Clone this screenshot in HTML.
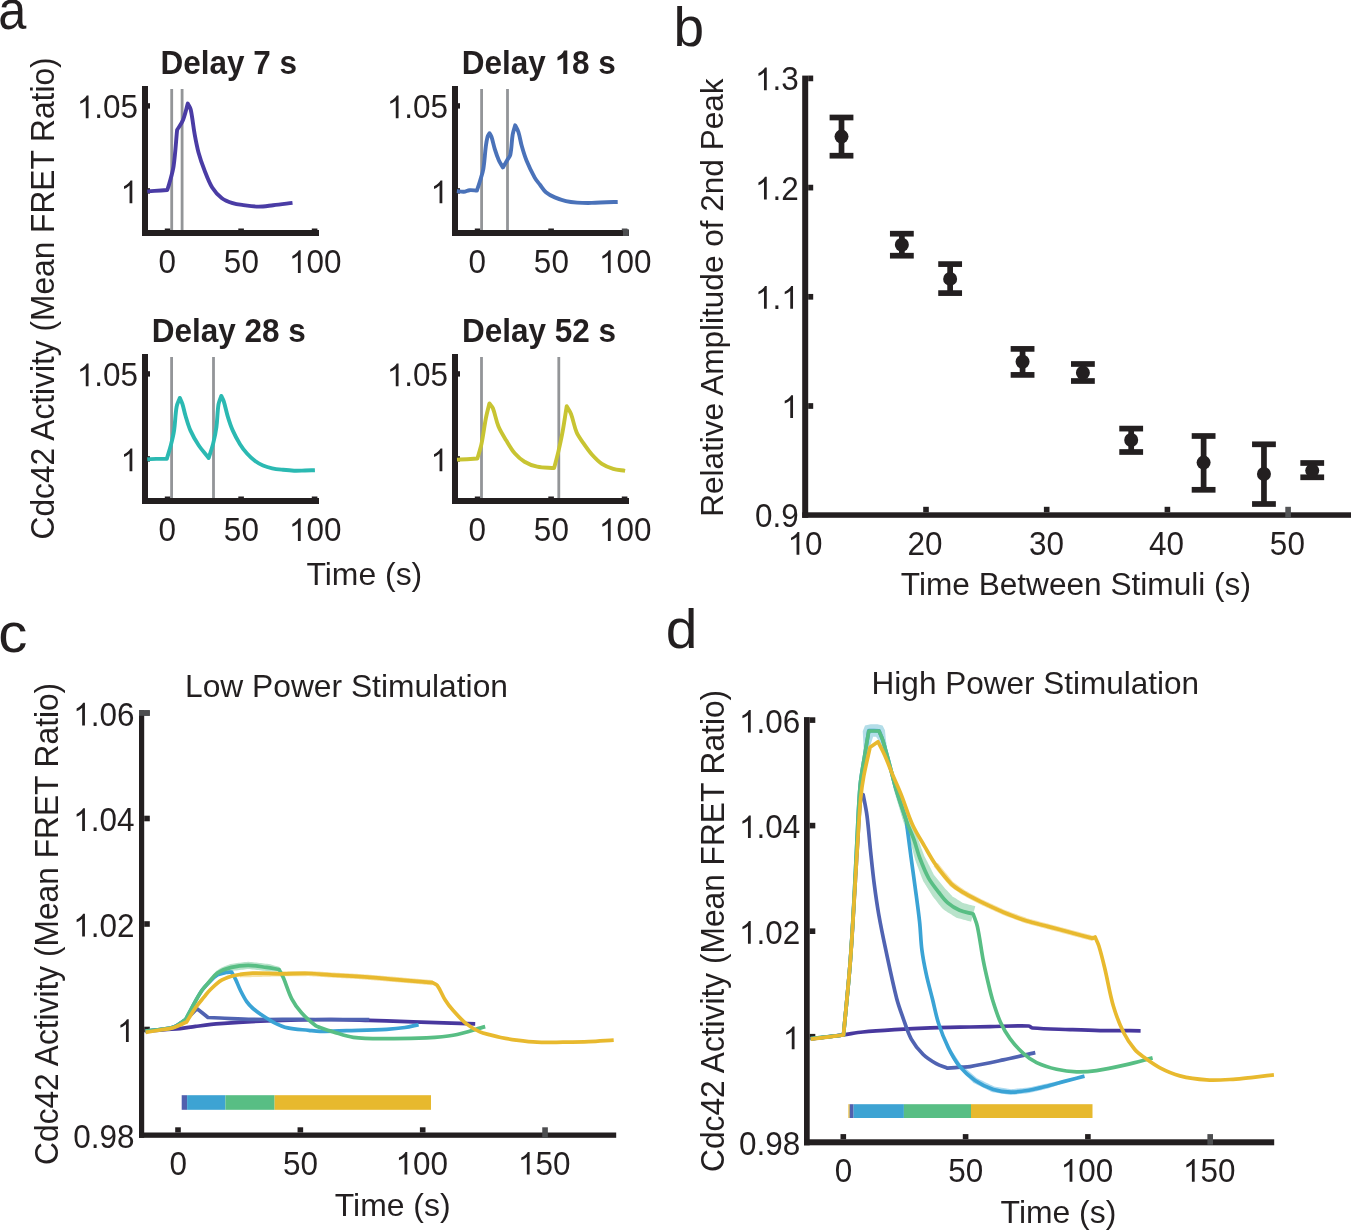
<!DOCTYPE html>
<html><head><meta charset="utf-8"><title>Figure</title>
<style>
html,body{margin:0;padding:0;background:#fff;}
body{width:1351px;height:1230px;overflow:hidden;}
svg{display:block;will-change:transform;}
svg text{font-family:"Liberation Sans",sans-serif;fill:#231f20;}
</style></head><body>
<svg width="1351" height="1230" viewBox="0 0 1351 1230">
<rect width="1351" height="1230" fill="#fff"/>
<g transform="translate(-1.85 29.1) scale(0.910 1.000)"><text font-size="55.5">a</text></g>
<g transform="translate(673.56 45.9) scale(1.000 1.000)"><text font-size="55">b</text></g>
<g transform="translate(-1.68 652.4) scale(1.050 1.000)"><text font-size="55.5">c</text></g>
<g transform="translate(665.71 648.4) scale(1.000 0.965)"><text font-size="57">d</text></g>
<rect x="142" y="86" width="6" height="150" fill="#231f20"/>
<rect x="142" y="230" width="177" height="6" fill="#231f20"/>
<rect x="148" y="103.2" width="2" height="5.4" fill="#231f20"/>
<rect x="148" y="188.2" width="2" height="5.4" fill="#231f20"/>
<rect x="164.8" y="228.5" width="5.6" height="2" fill="#231f20"/>
<rect x="238.3" y="228.5" width="5.6" height="2" fill="#231f20"/>
<rect x="311.8" y="228.5" width="5.6" height="2" fill="#231f20"/>
<rect x="170.3" y="89" width="2.8" height="141" fill="#939598"/>
<rect x="180.7" y="89" width="2.8" height="141" fill="#939598"/>
<path d="M147.3,191.4 C149.73,191.23 152.17,191.07 154.6,190.9 C158.83,190.6 163.07,190.3 167.3,190 C167.97,187.87 168.73,185.76 169.3,183.6 C170.83,177.79 172.73,172.04 173.6,166.1 C175.34,154.14 175.93,142.03 177.1,130 C179.03,126.73 181.47,123.72 182.9,120.2 C185.07,114.85 186.17,109.13 187.8,103.6 C188.77,105.57 190.22,107.36 190.7,109.5 C192.5,117.54 193.13,125.8 194.6,133.9 C195.73,140.1 196.85,146.32 198.5,152.4 C200.12,158.37 202.15,164.24 204.4,170 C206.72,175.95 208.83,182.07 212.2,187.5 C214.74,191.59 218.08,195.28 221.9,198.2 C225.02,200.58 228.86,201.9 232.6,203.1 C236.09,204.22 239.77,204.61 243.4,205.1 C248.38,205.78 253.38,206.58 258.4,206.6 C263.36,206.62 268.27,205.73 273.2,205.2 C279.64,204.5 286.07,203.67 292.5,202.9" fill="none" stroke="#4a3ca5" stroke-width="3.9" stroke-linejoin="round" stroke-linecap="butt"/>
<g transform="translate(76.79 118.2) scale(1.000 1.045)"><text font-size="31.5" x="17.52 26.27 43.79">.05</text><path transform="translate(0 0) scale(31.5 -30.24)" d="M0.373 0L0.285 0L0.285 0.56C0.255 0.532 0.218 0.505 0.182 0.486C0.152 0.47 0.13 0.461 0.109 0.454L0.109 0.539C0.158 0.562 0.2 0.59 0.238 0.623C0.275 0.656 0.3 0.688 0.316 0.719L0.373 0.719Z" fill="#231f20"/></g>
<g transform="translate(120.58 203.3) scale(1.000 1.045)"><path transform="translate(0 0) scale(31.5 -30.24)" d="M0.373 0L0.285 0L0.285 0.56C0.255 0.532 0.218 0.505 0.182 0.486C0.152 0.47 0.13 0.461 0.109 0.454L0.109 0.539C0.158 0.562 0.2 0.59 0.238 0.623C0.275 0.656 0.3 0.688 0.316 0.719L0.373 0.719Z" fill="#231f20"/></g>
<g transform="translate(158.44 273) scale(1.000 1.045)"><text font-size="31.5">0</text></g>
<g transform="translate(223.87 273) scale(1.000 1.045)"><text font-size="31.5">50</text></g>
<g transform="translate(288.92 273) scale(1.000 1.045)"><text font-size="31.5" x="17.52 35.04">00</text><path transform="translate(0 0) scale(31.5 -30.24)" d="M0.373 0L0.285 0L0.285 0.56C0.255 0.532 0.218 0.505 0.182 0.486C0.152 0.47 0.13 0.461 0.109 0.454L0.109 0.539C0.158 0.562 0.2 0.59 0.238 0.623C0.275 0.656 0.3 0.688 0.316 0.719L0.373 0.719Z" fill="#231f20"/></g>
<g transform="translate(160.49 74.1) scale(1.000 1.030)"><text font-size="31.5" font-weight="bold">Delay 7 s</text></g>
<rect x="452" y="86" width="6" height="150" fill="#231f20"/>
<rect x="452" y="230" width="177" height="6" fill="#231f20"/>
<rect x="458" y="103.2" width="2" height="5.4" fill="#231f20"/>
<rect x="458" y="188.2" width="2" height="5.4" fill="#231f20"/>
<rect x="474.8" y="228.5" width="5.6" height="2" fill="#231f20"/>
<rect x="548.3" y="228.5" width="5.6" height="2" fill="#231f20"/>
<rect x="621.8" y="228.5" width="5.6" height="2" fill="#4d4e50"/>
<rect x="623" y="229.2" width="5.8" height="6.8" fill="#4d4e50"/>
<rect x="480.2" y="89" width="2.8" height="141" fill="#939598"/>
<rect x="506.1" y="89" width="2.8" height="141" fill="#939598"/>
<path d="M456.9,191 C459.2,191.27 461.49,191.95 463.8,191.8 C465.77,191.67 467.53,190.38 469.5,190.2 C471.96,189.97 474.43,190.47 476.9,190.6 C477.97,187.33 479.13,184.1 480.1,180.8 C481.29,176.76 482.71,172.76 483.4,168.6 C484.61,161.32 484.85,153.92 485.8,146.6 C486.22,143.34 486.63,140.06 487.5,136.9 C487.87,135.55 488.83,134.43 489.5,133.2 C490.17,134.43 491.06,135.57 491.5,136.9 C492.83,140.9 493.54,145.08 494.8,149.1 C496.01,152.95 497.27,156.81 498.9,160.5 C499.98,162.93 501.57,165.1 502.9,167.4 C504.27,165.1 505.65,162.81 507,160.5 C508.11,158.61 509.83,156.94 510.3,154.8 C511.76,148.11 511.58,141.15 512.7,134.4 C513.22,131.3 514.37,128.33 515.2,125.3 C516.27,127.53 517.65,129.64 518.4,132 C519.83,136.51 520.41,141.25 521.7,145.8 C523.11,150.76 524.55,155.73 526.5,160.5 C528.89,166.35 531.63,172.07 534.7,177.6 C536.15,180.21 538.19,182.44 540,184.8 C541.92,187.3 543.5,190.15 545.9,192.2 C548.52,194.43 551.66,196 554.8,197.4 C558.36,198.99 562.1,200.21 565.9,201.1 C569.54,201.95 573.28,202.34 577,202.6 C581.92,202.94 586.87,202.97 591.8,202.9 C596.74,202.83 601.66,202.37 606.6,202.2 C610.3,202.07 614,202.07 617.7,202" fill="none" stroke="#4a72b9" stroke-width="3.9" stroke-linejoin="round" stroke-linecap="butt"/>
<g transform="translate(386.79 118.2) scale(1.000 1.045)"><text font-size="31.5" x="17.52 26.27 43.79">.05</text><path transform="translate(0 0) scale(31.5 -30.24)" d="M0.373 0L0.285 0L0.285 0.56C0.255 0.532 0.218 0.505 0.182 0.486C0.152 0.47 0.13 0.461 0.109 0.454L0.109 0.539C0.158 0.562 0.2 0.59 0.238 0.623C0.275 0.656 0.3 0.688 0.316 0.719L0.373 0.719Z" fill="#231f20"/></g>
<g transform="translate(430.58 203.3) scale(1.000 1.045)"><path transform="translate(0 0) scale(31.5 -30.24)" d="M0.373 0L0.285 0L0.285 0.56C0.255 0.532 0.218 0.505 0.182 0.486C0.152 0.47 0.13 0.461 0.109 0.454L0.109 0.539C0.158 0.562 0.2 0.59 0.238 0.623C0.275 0.656 0.3 0.688 0.316 0.719L0.373 0.719Z" fill="#231f20"/></g>
<g transform="translate(468.44 273) scale(1.000 1.045)"><text font-size="31.5">0</text></g>
<g transform="translate(533.87 273) scale(1.000 1.045)"><text font-size="31.5">50</text></g>
<g transform="translate(598.92 273) scale(1.000 1.045)"><text font-size="31.5" x="17.52 35.04">00</text><path transform="translate(0 0) scale(31.5 -30.24)" d="M0.373 0L0.285 0L0.285 0.56C0.255 0.532 0.218 0.505 0.182 0.486C0.152 0.47 0.13 0.461 0.109 0.454L0.109 0.539C0.158 0.562 0.2 0.59 0.238 0.623C0.275 0.656 0.3 0.688 0.316 0.719L0.373 0.719Z" fill="#231f20"/></g>
<g transform="translate(461.69 74.1) scale(1.000 1.030)"><text font-size="31.5" font-weight="bold" x="0 22.75 40.27 49.02 66.54 84.06 110.33 127.85 136.6">Delay 8 s</text><path transform="translate(92.81 0) scale(31.5 -31.5)" d="M0.406 0L0.279 0L0.279 0.515C0.23 0.47 0.16 0.44 0.095 0.42L0.095 0.53C0.18 0.56 0.26 0.63 0.30 0.724L0.406 0.724Z" fill="#231f20"/></g>
<rect x="142" y="354" width="6" height="150" fill="#231f20"/>
<rect x="142" y="498" width="177" height="6" fill="#231f20"/>
<rect x="148" y="371.2" width="2" height="5.4" fill="#231f20"/>
<rect x="148" y="456.2" width="2" height="5.4" fill="#231f20"/>
<rect x="164.8" y="496.5" width="5.6" height="2" fill="#231f20"/>
<rect x="238.3" y="496.5" width="5.6" height="2" fill="#231f20"/>
<rect x="311.8" y="496.5" width="5.6" height="2" fill="#231f20"/>
<rect x="170.2" y="357" width="2.8" height="141" fill="#939598"/>
<rect x="212.1" y="357" width="2.8" height="141" fill="#939598"/>
<path d="M147.3,459.3 C150.3,459.17 153.3,458.96 156.3,458.9 C159.8,458.83 163.3,458.9 166.8,458.9 C168.17,454.27 169.7,449.68 170.9,445 C172.14,440.17 173.36,435.33 174.1,430.4 C175.27,422.58 175.23,414.59 176.6,406.8 C177.14,403.69 178.73,400.87 179.8,397.9 C180.63,399.8 181.67,401.62 182.3,403.6 C183.58,407.61 184.28,411.78 185.5,415.8 C186.99,420.71 188.31,425.71 190.4,430.4 C192.66,435.48 195.42,440.36 198.5,445 C201.54,449.59 205.3,453.67 208.7,458 C210.2,453.13 211.96,448.34 213.2,443.4 C214.53,438.06 215.66,432.65 216.4,427.2 C217.43,419.64 217.32,411.94 218.5,404.4 C218.96,401.45 220.37,398.73 221.3,395.9 C222.1,397.63 223.13,399.28 223.7,401.1 C225.3,406.2 226.23,411.49 227.8,416.6 C229.23,421.27 230.73,425.94 232.7,430.4 C234.8,435.16 237.26,439.78 240,444.2 C242.04,447.5 244.41,450.61 247,453.5 C249.46,456.24 252.16,458.79 255.1,461 C257.52,462.82 260.21,464.31 263,465.5 C265.95,466.76 269.07,467.63 272.2,468.3 C275.75,469.06 279.39,469.4 283,469.8 C286.69,470.2 290.39,470.58 294.1,470.7 C297.73,470.82 301.37,470.59 305,470.5 C308.3,470.42 311.6,470.3 314.9,470.2" fill="none" stroke="#2bb9b2" stroke-width="3.9" stroke-linejoin="round" stroke-linecap="butt"/>
<g transform="translate(76.79 386.2) scale(1.000 1.045)"><text font-size="31.5" x="17.52 26.27 43.79">.05</text><path transform="translate(0 0) scale(31.5 -30.24)" d="M0.373 0L0.285 0L0.285 0.56C0.255 0.532 0.218 0.505 0.182 0.486C0.152 0.47 0.13 0.461 0.109 0.454L0.109 0.539C0.158 0.562 0.2 0.59 0.238 0.623C0.275 0.656 0.3 0.688 0.316 0.719L0.373 0.719Z" fill="#231f20"/></g>
<g transform="translate(120.58 471.3) scale(1.000 1.045)"><path transform="translate(0 0) scale(31.5 -30.24)" d="M0.373 0L0.285 0L0.285 0.56C0.255 0.532 0.218 0.505 0.182 0.486C0.152 0.47 0.13 0.461 0.109 0.454L0.109 0.539C0.158 0.562 0.2 0.59 0.238 0.623C0.275 0.656 0.3 0.688 0.316 0.719L0.373 0.719Z" fill="#231f20"/></g>
<g transform="translate(158.44 541) scale(1.000 1.045)"><text font-size="31.5">0</text></g>
<g transform="translate(223.87 541) scale(1.000 1.045)"><text font-size="31.5">50</text></g>
<g transform="translate(288.92 541) scale(1.000 1.045)"><text font-size="31.5" x="17.52 35.04">00</text><path transform="translate(0 0) scale(31.5 -30.24)" d="M0.373 0L0.285 0L0.285 0.56C0.255 0.532 0.218 0.505 0.182 0.486C0.152 0.47 0.13 0.461 0.109 0.454L0.109 0.539C0.158 0.562 0.2 0.59 0.238 0.623C0.275 0.656 0.3 0.688 0.316 0.719L0.373 0.719Z" fill="#231f20"/></g>
<g transform="translate(151.79 342.1) scale(1.000 1.030)"><text font-size="31.5" font-weight="bold">Delay 28 s</text></g>
<rect x="452" y="354" width="6" height="150" fill="#231f20"/>
<rect x="452" y="498" width="177" height="6" fill="#231f20"/>
<rect x="458" y="371.2" width="2" height="5.4" fill="#231f20"/>
<rect x="458" y="456.2" width="2" height="5.4" fill="#231f20"/>
<rect x="474.8" y="496.5" width="5.6" height="2" fill="#231f20"/>
<rect x="548.3" y="496.5" width="5.6" height="2" fill="#231f20"/>
<rect x="621.8" y="496.5" width="5.6" height="2" fill="#231f20"/>
<rect x="480.1" y="357" width="2.8" height="141" fill="#939598"/>
<rect x="557.4" y="357" width="2.8" height="141" fill="#939598"/>
<path d="M457,459.6 C460.3,459.47 463.6,459.36 466.9,459.2 C470.4,459.03 473.9,458.8 477.4,458.6 C478.8,453.53 480.52,448.54 481.6,443.4 C483.36,435.03 484.26,426.5 485.9,418.1 C486.86,413.16 488.23,408.3 489.4,403.4 C490.57,405.03 492.17,406.43 492.9,408.3 C495.23,414.24 496.06,420.71 498.5,426.6 C500.55,431.53 503.53,436.03 506.3,440.6 C508.93,444.94 511.38,449.46 514.7,453.3 C517.51,456.56 520.8,459.5 524.5,461.7 C528.41,464.03 532.75,465.74 537.2,466.7 C542.72,467.89 548.47,467.63 554.1,468.1 C555.5,462.7 557.03,457.33 558.3,451.9 C559.83,445.36 561.29,438.8 562.5,432.2 C564.09,423.57 565.3,414.87 566.7,406.2 C568.13,408.77 569.95,411.15 571,413.9 C573.27,419.86 574.09,426.33 576.6,432.2 C578.33,436.25 581.1,439.77 583.6,443.4 C586.27,447.28 588.95,451.19 592.1,454.7 C595.08,458.02 598.19,461.32 601.9,463.8 C605.32,466.09 609.26,467.59 613.2,468.8 C617.05,469.98 621.13,470.2 625.1,470.9" fill="none" stroke="#c8c432" stroke-width="3.9" stroke-linejoin="round" stroke-linecap="butt"/>
<g transform="translate(386.79 386.2) scale(1.000 1.045)"><text font-size="31.5" x="17.52 26.27 43.79">.05</text><path transform="translate(0 0) scale(31.5 -30.24)" d="M0.373 0L0.285 0L0.285 0.56C0.255 0.532 0.218 0.505 0.182 0.486C0.152 0.47 0.13 0.461 0.109 0.454L0.109 0.539C0.158 0.562 0.2 0.59 0.238 0.623C0.275 0.656 0.3 0.688 0.316 0.719L0.373 0.719Z" fill="#231f20"/></g>
<g transform="translate(430.58 471.3) scale(1.000 1.045)"><path transform="translate(0 0) scale(31.5 -30.24)" d="M0.373 0L0.285 0L0.285 0.56C0.255 0.532 0.218 0.505 0.182 0.486C0.152 0.47 0.13 0.461 0.109 0.454L0.109 0.539C0.158 0.562 0.2 0.59 0.238 0.623C0.275 0.656 0.3 0.688 0.316 0.719L0.373 0.719Z" fill="#231f20"/></g>
<g transform="translate(468.44 541) scale(1.000 1.045)"><text font-size="31.5">0</text></g>
<g transform="translate(533.87 541) scale(1.000 1.045)"><text font-size="31.5">50</text></g>
<g transform="translate(598.92 541) scale(1.000 1.045)"><text font-size="31.5" x="17.52 35.04">00</text><path transform="translate(0 0) scale(31.5 -30.24)" d="M0.373 0L0.285 0L0.285 0.56C0.255 0.532 0.218 0.505 0.182 0.486C0.152 0.47 0.13 0.461 0.109 0.454L0.109 0.539C0.158 0.562 0.2 0.59 0.238 0.623C0.275 0.656 0.3 0.688 0.316 0.719L0.373 0.719Z" fill="#231f20"/></g>
<g transform="translate(461.99 342.1) scale(1.000 1.030)"><text font-size="31.5" font-weight="bold">Delay 52 s</text></g>
<g transform="translate(306.48 585.3) scale(1.000 1.000)"><text font-size="31.9">Time (s)</text></g>
<rect x="802.2" y="75.6" width="6" height="442.2" fill="#231f20"/>
<rect x="802.2" y="512.3" width="548.8" height="5.5" fill="#231f20"/>
<rect x="808.2" y="75.55" width="5" height="5.7" fill="#231f20"/>
<rect x="808.2" y="184.75" width="5" height="5.7" fill="#231f20"/>
<rect x="808.2" y="293.95" width="5" height="5.7" fill="#231f20"/>
<rect x="808.2" y="403.15" width="5" height="5.7" fill="#231f20"/>
<rect x="923.2" y="506.8" width="5.6" height="5.5" fill="#231f20"/>
<rect x="1043.9" y="506.8" width="5.6" height="5.5" fill="#231f20"/>
<rect x="1164.6" y="506.8" width="5.6" height="5.5" fill="#231f20"/>
<rect x="1285.3" y="506.8" width="5.6" height="11" fill="#545557"/>
<rect x="838.66" y="117.5" width="5.7" height="38.2" fill="#231f20"/>
<rect x="829.61" y="114.65" width="23.8" height="5.7" fill="#231f20"/>
<rect x="829.61" y="152.85" width="23.8" height="5.7" fill="#231f20"/>
<circle cx="841.51" cy="136.6" r="7" fill="#231f20"/>
<rect x="899.01" y="233.7" width="5.7" height="22" fill="#231f20"/>
<rect x="889.96" y="230.85" width="23.8" height="5.7" fill="#231f20"/>
<rect x="889.96" y="252.85" width="23.8" height="5.7" fill="#231f20"/>
<circle cx="901.86" cy="244.7" r="7" fill="#231f20"/>
<rect x="947.29" y="264.1" width="5.7" height="29" fill="#231f20"/>
<rect x="938.24" y="261.25" width="23.8" height="5.7" fill="#231f20"/>
<rect x="938.24" y="290.25" width="23.8" height="5.7" fill="#231f20"/>
<circle cx="950.14" cy="278.9" r="7" fill="#231f20"/>
<rect x="1019.71" y="348.9" width="5.7" height="26" fill="#231f20"/>
<rect x="1010.66" y="346.05" width="23.8" height="5.7" fill="#231f20"/>
<rect x="1010.66" y="372.05" width="23.8" height="5.7" fill="#231f20"/>
<circle cx="1022.56" cy="361.8" r="7" fill="#231f20"/>
<rect x="1080.06" y="364" width="5.7" height="17" fill="#231f20"/>
<rect x="1071.01" y="361.15" width="23.8" height="5.7" fill="#231f20"/>
<rect x="1071.01" y="378.15" width="23.8" height="5.7" fill="#231f20"/>
<circle cx="1082.91" cy="372.7" r="7" fill="#231f20"/>
<rect x="1128.34" y="428.6" width="5.7" height="23.4" fill="#231f20"/>
<rect x="1119.29" y="425.75" width="23.8" height="5.7" fill="#231f20"/>
<rect x="1119.29" y="449.15" width="23.8" height="5.7" fill="#231f20"/>
<circle cx="1131.19" cy="440" r="7" fill="#231f20"/>
<rect x="1200.76" y="436" width="5.7" height="53.8" fill="#231f20"/>
<rect x="1191.71" y="433.15" width="23.8" height="5.7" fill="#231f20"/>
<rect x="1191.71" y="486.95" width="23.8" height="5.7" fill="#231f20"/>
<circle cx="1203.61" cy="462.6" r="7" fill="#231f20"/>
<rect x="1261.11" y="444.3" width="5.7" height="59.7" fill="#231f20"/>
<rect x="1252.06" y="441.45" width="23.8" height="5.7" fill="#231f20"/>
<rect x="1252.06" y="501.15" width="23.8" height="5.7" fill="#231f20"/>
<circle cx="1263.96" cy="474" r="7" fill="#231f20"/>
<rect x="1309.39" y="463" width="5.7" height="14.3" fill="#231f20"/>
<rect x="1300.34" y="460.15" width="23.8" height="5.7" fill="#231f20"/>
<rect x="1300.34" y="474.45" width="23.8" height="5.7" fill="#231f20"/>
<circle cx="1312.24" cy="470.6" r="7" fill="#231f20"/>
<g transform="translate(755.01 90.3) scale(1.000 1.045)"><text font-size="31.5" x="17.52 26.27">.3</text><path transform="translate(0 0) scale(31.5 -30.24)" d="M0.373 0L0.285 0L0.285 0.56C0.255 0.532 0.218 0.505 0.182 0.486C0.152 0.47 0.13 0.461 0.109 0.454L0.109 0.539C0.158 0.562 0.2 0.59 0.238 0.623C0.275 0.656 0.3 0.688 0.316 0.719L0.373 0.719Z" fill="#231f20"/></g>
<g transform="translate(755.01 199.5) scale(1.000 1.045)"><text font-size="31.5" x="17.52 26.27">.2</text><path transform="translate(0 0) scale(31.5 -30.24)" d="M0.373 0L0.285 0L0.285 0.56C0.255 0.532 0.218 0.505 0.182 0.486C0.152 0.47 0.13 0.461 0.109 0.454L0.109 0.539C0.158 0.562 0.2 0.59 0.238 0.623C0.275 0.656 0.3 0.688 0.316 0.719L0.373 0.719Z" fill="#231f20"/></g>
<g transform="translate(755.01 308.7) scale(1.000 1.045)"><text font-size="31.5" x="17.52">.</text><path transform="translate(0 0) scale(31.5 -30.24)" d="M0.373 0L0.285 0L0.285 0.56C0.255 0.532 0.218 0.505 0.182 0.486C0.152 0.47 0.13 0.461 0.109 0.454L0.109 0.539C0.158 0.562 0.2 0.59 0.238 0.623C0.275 0.656 0.3 0.688 0.316 0.719L0.373 0.719Z" fill="#231f20"/><path transform="translate(26.27 0) scale(31.5 -30.24)" d="M0.373 0L0.285 0L0.285 0.56C0.255 0.532 0.218 0.505 0.182 0.486C0.152 0.47 0.13 0.461 0.109 0.454L0.109 0.539C0.158 0.562 0.2 0.59 0.238 0.623C0.275 0.656 0.3 0.688 0.316 0.719L0.373 0.719Z" fill="#231f20"/></g>
<g transform="translate(781.28 417.9) scale(1.000 1.045)"><path transform="translate(0 0) scale(31.5 -30.24)" d="M0.373 0L0.285 0L0.285 0.56C0.255 0.532 0.218 0.505 0.182 0.486C0.152 0.47 0.13 0.461 0.109 0.454L0.109 0.539C0.158 0.562 0.2 0.59 0.238 0.623C0.275 0.656 0.3 0.688 0.316 0.719L0.373 0.719Z" fill="#231f20"/></g>
<g transform="translate(755.01 527.1) scale(1.000 1.045)"><text font-size="31.5">0.9</text></g>
<g transform="translate(787.58 554.7) scale(1.000 1.045)"><text font-size="31.5" x="17.52">0</text><path transform="translate(0 0) scale(31.5 -30.24)" d="M0.373 0L0.285 0L0.285 0.56C0.255 0.532 0.218 0.505 0.182 0.486C0.152 0.47 0.13 0.461 0.109 0.454L0.109 0.539C0.158 0.562 0.2 0.59 0.238 0.623C0.275 0.656 0.3 0.688 0.316 0.719L0.373 0.719Z" fill="#231f20"/></g>
<g transform="translate(907.6 554.7) scale(1.000 1.045)"><text font-size="31.5">20</text></g>
<g transform="translate(1028.9 554.7) scale(1.000 1.045)"><text font-size="31.5">30</text></g>
<g transform="translate(1149.08 554.7) scale(1.000 1.045)"><text font-size="31.5">40</text></g>
<g transform="translate(1269.87 554.7) scale(1.000 1.045)"><text font-size="31.5">50</text></g>
<g transform="translate(900.79 594.8) scale(1.000 1.000)"><text font-size="31.62">Time Between Stimuli (s)</text></g>
<text transform="translate(723.4 516.82) rotate(-90) scale(1 1.020)" font-size="31.55">Relative Amplitude of 2nd Peak</text>
<rect x="139" y="710.2" width="5.2" height="427.6" fill="#231f20"/>
<rect x="139" y="1132.5" width="477.2" height="5.3" fill="#231f20"/>
<rect x="144.2" y="710.2" width="5.6" height="5.6" fill="#4d4e50"/>
<rect x="144.2" y="815.7" width="5.6" height="5.6" fill="#231f20"/>
<rect x="144.2" y="921.2" width="5.6" height="5.6" fill="#231f20"/>
<rect x="144.2" y="1026.7" width="5.6" height="5.6" fill="#231f20"/>
<rect x="175.2" y="1127.3" width="5.6" height="5.2" fill="#231f20"/>
<rect x="297.55" y="1127.3" width="5.6" height="5.2" fill="#231f20"/>
<rect x="419.9" y="1127.3" width="5.6" height="5.2" fill="#231f20"/>
<rect x="542.25" y="1127.3" width="5.6" height="10.6" fill="#4d4e50"/>
<rect x="139" y="710.2" width="10.8" height="5.6" fill="#4d4e50"/>
<rect x="181.7" y="1095.2" width="5.4" height="14.6" fill="#5060ae"/>
<rect x="187.1" y="1095.2" width="38.3" height="14.6" fill="#3da3d3"/>
<rect x="225.4" y="1095.2" width="49.2" height="14.6" fill="#58be84"/>
<rect x="274.6" y="1095.2" width="156.4" height="14.6" fill="#e7b92e"/>
<polygon points="212.67,978.74 214.26,977.78 215.84,976.81 217.43,975.85 218.71,975.11 219.84,975.09 221.38,974.86 222.92,974.63 224.36,974.15 225.76,973.58 227.16,973.01 228.56,972.44 229.96,971.87 231.36,971.3 232.3,970.88 233.38,970.78 234.92,970.59 236.45,970.4 237.99,970.21 239.53,970.02 241.06,969.83 242.6,969.64 244.13,969.45 245.67,969.25 247.21,969.06 248.32,968.9 249.41,969.05 250.94,969.23 252.46,969.4 253.99,969.58 255.51,969.75 257.04,969.93 258.56,970.1 260.09,970.28 261.61,970.45 263.14,970.63 264.66,970.8 266.1,970.96 267.58,971.21 269.16,971.48 270.76,971.6 272.36,971.69 273.96,971.78 275.57,971.88 277.17,971.97 278.77,972.06 279.63,966.94 278.08,966.5 276.53,966.07 274.99,965.64 273.44,965.21 271.89,964.78 270.34,964.37 268.77,964.11 267.1,963.84 265.49,963.65 263.96,963.47 262.44,963.3 260.91,963.12 259.39,962.95 257.86,962.77 256.34,962.6 254.81,962.42 253.29,962.25 251.76,962.07 250.24,961.9 248.28,961.7 246.32,961.92 244.78,962.11 243.25,962.3 241.71,962.49 240.17,962.68 238.64,962.87 237.1,963.06 235.57,963.25 234.03,963.45 232.49,963.64 230.5,963.92 228.64,964.64 227.24,965.21 225.84,965.78 224.44,966.35 223.04,966.92 221.64,967.49 220.28,968.15 219.02,969.06 217.76,969.97 216.09,971.09 214.67,972.8 213.56,974.29 212.44,975.77 211.33,977.26" fill="#b9e3cb"/>
<polygon points="240.06,977.4 241.57,977.36 243.07,977.33 244.58,977.29 246.08,977.25 247.58,977.21 249.09,977.18 250.59,977.14 252.09,977.1 253.6,977.07 255.1,977.03 256.6,976.99 258.11,976.95 259.61,976.92 261.12,976.88 262.62,976.84 264.12,976.81 265.63,976.77 267.13,976.73 268.63,976.7 270.14,976.66 271.64,976.62 273.15,976.58 274.65,976.55 276.15,976.51 277.66,976.47 279.16,976.44 280.65,976.4 282.19,976.38 283.76,976.37 285.33,976.35 286.89,976.33 288.46,976.32 290.03,976.3 291.59,976.28 293.16,976.27 294.73,976.25 296.29,976.23 297.86,976.22 299.43,976.2 300.99,976.18 302.56,976.17 304.13,976.15 305.69,976.13 307.26,976.12 308.73,976.1 310.14,976.19 311.66,976.29 313.17,976.39 314.69,976.49 316.2,976.59 317.71,976.69 319.23,976.79 320.74,976.89 322.26,976.99 323.77,977.09 325.29,977.19 326.8,977.29 328.31,977.39 329.84,977.5 331.35,977.58 332.85,977.67 334.35,977.75 335.85,977.84 337.35,977.92 338.85,978.01 340.35,978.09 341.85,978.18 343.35,978.26 344.85,978.35 346.35,978.43 347.85,978.52 349.35,978.6 350.85,978.69 352.35,978.77 353.85,978.86 355.35,978.94 356.85,979.03 358.35,979.11 359.82,979.19 361.3,979.31 362.82,979.44 364.33,979.56 365.84,979.68 367.36,979.81 368.87,979.93 370.39,980.05 371.9,980.17 373.41,980.3 374.93,980.42 376.44,980.54 377.95,980.66 379.47,980.79 380.98,980.91 382.49,981.03 384.01,981.16 385.52,981.28 387.04,981.4 388.55,981.52 390.06,981.65 391.58,981.77 393.08,981.89 394.58,982.02 396.09,982.15 397.6,982.28 399.11,982.41 400.61,982.54 402.12,982.67 403.63,982.81 405.14,982.94 406.64,983.07 408.15,983.2 409.66,983.33 411.17,983.46 412.68,983.59 414.18,983.72 415.69,983.85 417.2,983.98 418.71,984.11 420.21,984.24 421.72,984.37 423.23,984.51 424.74,984.64 426.24,984.77 427.75,984.9 429.26,985.03 430.77,985.16 432.28,985.29 432.72,980.11 431.22,979.98 429.71,979.85 428.2,979.72 426.69,979.59 425.19,979.46 423.68,979.33 422.17,979.19 420.66,979.06 419.16,978.93 417.65,978.8 416.14,978.67 414.63,978.54 413.12,978.41 411.62,978.28 410.11,978.15 408.6,978.02 407.09,977.89 405.59,977.76 404.08,977.63 402.57,977.49 401.06,977.36 399.56,977.23 398.05,977.1 396.54,976.97 395.03,976.84 393.52,976.71 392,976.59 390.48,976.46 388.97,976.34 387.46,976.22 385.94,976.09 384.43,975.97 382.91,975.85 381.4,975.73 379.89,975.6 378.37,975.48 376.86,975.36 375.35,975.24 373.83,975.11 372.32,974.99 370.81,974.87 369.29,974.74 367.78,974.62 366.26,974.5 364.75,974.38 363.24,974.25 361.72,974.13 360.18,974.01 358.65,973.92 357.15,973.83 355.65,973.75 354.15,973.66 352.65,973.58 351.15,973.49 349.65,973.41 348.15,973.32 346.65,973.24 345.15,973.15 343.65,973.07 342.15,972.98 340.65,972.9 339.15,972.81 337.65,972.73 336.15,972.64 334.65,972.56 333.15,972.47 331.65,972.39 330.16,972.3 328.66,972.21 327.14,972.11 325.63,972.01 324.11,971.91 322.6,971.81 321.09,971.71 319.57,971.61 318.06,971.51 316.54,971.41 315.03,971.31 313.51,971.21 312,971.11 310.49,971.01 308.87,970.9 307.21,970.92 305.64,970.93 304.07,970.95 302.51,970.97 300.94,970.98 299.37,971 297.81,971.02 296.24,971.03 294.67,971.05 293.11,971.07 291.54,971.08 289.97,971.1 288.41,971.12 286.84,971.13 285.27,971.15 283.71,971.17 282.14,971.18 280.55,971.2 279.03,971.24 277.53,971.27 276.02,971.31 274.52,971.35 273.02,971.39 271.51,971.42 270.01,971.46 268.51,971.5 267,971.53 265.5,971.57 264,971.61 262.49,971.65 260.99,971.68 259.48,971.72 257.98,971.76 256.48,971.79 254.97,971.83 253.47,971.87 251.97,971.9 250.46,971.94 248.96,971.98 247.45,972.02 245.95,972.05 244.45,972.09 242.94,972.13 241.44,972.16 239.94,972.2" fill="#f6e2a6"/>
<path d="M145.6,1031.4 C152.07,1030.8 158.53,1030.13 165,1029.6 C169.99,1029.19 175.02,1029.12 180,1028.6 C185.19,1028.06 190.32,1027.03 195.5,1026.4 C203.66,1025.4 211.81,1024.33 220,1023.7 C235.51,1022.5 251.05,1021.49 266.6,1020.9 C287.72,1020.09 308.86,1019.6 330,1019.5 C343.1,1019.44 356.2,1020.02 369.3,1020.4 C383.97,1020.82 398.63,1021.42 413.3,1021.9 C433.93,1022.58 454.57,1023.23 475.2,1023.9" fill="none" stroke="#48389e" stroke-width="3.7" stroke-linejoin="round" stroke-linecap="butt"/>
<path d="M145.6,1031 C150.4,1030.5 155.22,1030.14 160,1029.5 C164.45,1028.91 169.08,1028.85 173.3,1027.3 C177.83,1025.63 181.63,1022.43 185.8,1020 C189.5,1016.2 193.2,1012.4 196.9,1008.6 C200.6,1011.57 204.3,1014.53 208,1017.5 C212,1017.67 216,1017.83 220,1018 C230.83,1018.46 241.66,1019.21 252.5,1019.4 C268.33,1019.68 284.17,1019.36 300,1019.4 C310,1019.43 320,1019.56 330,1019.6 C343.1,1019.66 356.2,1019.67 369.3,1019.7" fill="none" stroke="#5063b2" stroke-width="3.7" stroke-linejoin="round" stroke-linecap="butt"/>
<path d="M145.6,1031 C150.4,1030.5 155.22,1030.14 160,1029.5 C164.45,1028.91 169.12,1028.95 173.3,1027.3 C177.9,1025.48 181.63,1021.97 185.8,1019.3 C189.03,1013.23 192.14,1007.1 195.5,1001.1 C197.61,997.33 199.66,993.5 202.2,990 C204.18,987.27 206.6,984.87 209,982.5 C211.67,979.86 214.16,976.9 217.4,975 C219.97,973.49 223.08,973.12 226,972.5 C227.8,972.12 229.67,972.17 231.5,972 C232.87,974.47 234.37,976.86 235.6,979.4 C237.37,983.04 238.68,986.89 240.5,990.5 C242.46,994.39 244.41,998.32 246.9,1001.9 C248.61,1004.36 250.77,1006.5 253,1008.5 C255.49,1010.72 258.23,1012.64 261,1014.5 C265.1,1017.25 269.19,1020.08 273.6,1022.3 C278.12,1024.57 282.77,1026.78 287.7,1027.9 C294.6,1029.47 301.76,1029.56 308.8,1030.3 C312.53,1030.69 316.25,1031.27 320,1031.3 C328.87,1031.37 337.73,1030.87 346.6,1030.6 C359.93,1030.2 373.28,1030.01 386.6,1029.3 C392.75,1028.97 398.9,1028.4 405,1027.5 C409.59,1026.83 414.07,1025.57 418.6,1024.6" fill="none" stroke="#3aa3d5" stroke-width="3.7" stroke-linejoin="round" stroke-linecap="butt"/>
<path d="M145.6,1031 C150.4,1030.5 155.22,1030.14 160,1029.5 C164.45,1028.91 169.12,1028.95 173.3,1027.3 C177.9,1025.48 181.63,1021.97 185.8,1019.3 C189.03,1013.23 192.14,1007.1 195.5,1001.1 C197.61,997.33 199.71,993.53 202.2,990 C204.22,987.14 206.66,984.6 209,982 C211.73,978.97 213.98,975.33 217.4,973.1 C221.62,970.35 226.51,968.63 231.4,967.4 C236.9,966.01 242.62,965.3 248.3,965.3 C254.44,965.3 260.52,966.57 266.6,967.4 C270.82,967.97 275,968.8 279.2,969.5 C280.63,972.33 282.25,975.08 283.5,978 C286.48,984.96 288.42,992.38 291.9,999.1 C294.52,1004.16 297.9,1008.86 301.7,1013.1 C305.92,1017.81 310.83,1021.89 315.8,1025.8 C316.99,1026.73 318.57,1027 320,1027.5 C324.41,1029.04 328.82,1030.58 333.3,1031.9 C339.92,1033.85 346.45,1036.44 353.3,1037.3 C364.32,1038.69 375.49,1038.51 386.6,1038.6 C399.93,1038.71 413.28,1038.56 426.6,1037.9 C435.5,1037.46 444.45,1036.99 453.2,1035.3 C464.05,1033.21 474.53,1029.5 485.2,1026.6" fill="none" stroke="#58be84" stroke-width="3.7" stroke-linejoin="round" stroke-linecap="butt"/>
<path d="M145.6,1032.3 C150.4,1031.53 155.2,1030.8 160,1030 C164.44,1029.26 168.99,1029 173.3,1027.7 C177.92,1026.31 182.17,1023.9 186.6,1022 C189.57,1017.27 192.29,1012.37 195.5,1007.8 C198.23,1003.92 201.4,1000.38 204.4,996.7 C206.24,994.44 207.91,992.02 210,990 C213.66,986.47 217.2,982.64 221.6,980.1 C225.88,977.63 230.78,976.29 235.6,975.2 C241.14,973.95 246.83,973.28 252.5,973.1 C261.87,972.81 271.23,973.73 280.6,973.8 C290,973.87 299.4,973.29 308.8,973.5 C315.88,973.66 322.93,974.47 330,974.9 C340,975.51 350.01,975.91 360,976.6 C371.11,977.37 382.2,978.37 393.3,979.3 C406.37,980.4 419.43,981.57 432.5,982.7 C434.07,983.57 436.14,983.86 437.2,985.3 C440.5,989.8 442.22,995.29 445.2,1000 C447.57,1003.74 450.25,1007.3 453.2,1010.6 C457.37,1015.28 461.6,1019.99 466.5,1023.9 C470.57,1027.14 475.17,1029.73 479.9,1031.9 C483.21,1033.42 486.89,1033.95 490.4,1034.9 C493.82,1035.82 497.23,1036.8 500.7,1037.5 C505.87,1038.54 511.07,1039.42 516.3,1040.1 C523.18,1040.99 530.07,1041.89 537,1042.2 C545.62,1042.59 554.27,1042.28 562.9,1042.2 C571.53,1042.12 580.17,1042.06 588.8,1041.7 C597.11,1041.36 605.4,1040.63 613.7,1040.1" fill="none" stroke="#e8b92e" stroke-width="3.7" stroke-linejoin="round" stroke-linecap="butt"/>
<g transform="translate(73.19 725.5) scale(1.000 1.045)"><text font-size="31.5" x="17.52 26.27 43.79">.06</text><path transform="translate(0 0) scale(31.5 -30.24)" d="M0.373 0L0.285 0L0.285 0.56C0.255 0.532 0.218 0.505 0.182 0.486C0.152 0.47 0.13 0.461 0.109 0.454L0.109 0.539C0.158 0.562 0.2 0.59 0.238 0.623C0.275 0.656 0.3 0.688 0.316 0.719L0.373 0.719Z" fill="#231f20"/></g>
<g transform="translate(73.19 831) scale(1.000 1.045)"><text font-size="31.5" x="17.52 26.27 43.79">.04</text><path transform="translate(0 0) scale(31.5 -30.24)" d="M0.373 0L0.285 0L0.285 0.56C0.255 0.532 0.218 0.505 0.182 0.486C0.152 0.47 0.13 0.461 0.109 0.454L0.109 0.539C0.158 0.562 0.2 0.59 0.238 0.623C0.275 0.656 0.3 0.688 0.316 0.719L0.373 0.719Z" fill="#231f20"/></g>
<g transform="translate(73.19 936.5) scale(1.000 1.045)"><text font-size="31.5" x="17.52 26.27 43.79">.02</text><path transform="translate(0 0) scale(31.5 -30.24)" d="M0.373 0L0.285 0L0.285 0.56C0.255 0.532 0.218 0.505 0.182 0.486C0.152 0.47 0.13 0.461 0.109 0.454L0.109 0.539C0.158 0.562 0.2 0.59 0.238 0.623C0.275 0.656 0.3 0.688 0.316 0.719L0.373 0.719Z" fill="#231f20"/></g>
<g transform="translate(116.98 1042) scale(1.000 1.045)"><path transform="translate(0 0) scale(31.5 -30.24)" d="M0.373 0L0.285 0L0.285 0.56C0.255 0.532 0.218 0.505 0.182 0.486C0.152 0.47 0.13 0.461 0.109 0.454L0.109 0.539C0.158 0.562 0.2 0.59 0.238 0.623C0.275 0.656 0.3 0.688 0.316 0.719L0.373 0.719Z" fill="#231f20"/></g>
<g transform="translate(73.19 1147.5) scale(1.000 1.045)"><text font-size="31.5">0.98</text></g>
<g transform="translate(169.44 1174.6) scale(1.000 1.045)"><text font-size="31.5">0</text></g>
<g transform="translate(283.02 1174.6) scale(1.000 1.045)"><text font-size="31.5">50</text></g>
<g transform="translate(395.52 1174.6) scale(1.000 1.045)"><text font-size="31.5" x="17.52 35.04">00</text><path transform="translate(0 0) scale(31.5 -30.24)" d="M0.373 0L0.285 0L0.285 0.56C0.255 0.532 0.218 0.505 0.182 0.486C0.152 0.47 0.13 0.461 0.109 0.454L0.109 0.539C0.158 0.562 0.2 0.59 0.238 0.623C0.275 0.656 0.3 0.688 0.316 0.719L0.373 0.719Z" fill="#231f20"/></g>
<g transform="translate(517.87 1174.6) scale(1.000 1.045)"><text font-size="31.5" x="17.52 35.04">50</text><path transform="translate(0 0) scale(31.5 -30.24)" d="M0.373 0L0.285 0L0.285 0.56C0.255 0.532 0.218 0.505 0.182 0.486C0.152 0.47 0.13 0.461 0.109 0.454L0.109 0.539C0.158 0.562 0.2 0.59 0.238 0.623C0.275 0.656 0.3 0.688 0.316 0.719L0.373 0.719Z" fill="#231f20"/></g>
<g transform="translate(334.78 1215.8) scale(1.000 1.000)"><text font-size="31.9">Time (s)</text></g>
<g transform="translate(185 697.3) scale(1.000 1.000)"><text font-size="31.75">Low Power Stimulation</text></g>
<rect x="804" y="717.1" width="5.7" height="428.2" fill="#231f20"/>
<rect x="804" y="1139.3" width="470.2" height="6" fill="#231f20"/>
<rect x="809.7" y="717.3" width="5.6" height="5.6" fill="#231f20"/>
<rect x="809.7" y="822.8" width="5.6" height="5.6" fill="#231f20"/>
<rect x="809.7" y="928.4" width="5.6" height="5.6" fill="#231f20"/>
<rect x="809.7" y="1033.9" width="5.6" height="5.6" fill="#231f20"/>
<rect x="840.5" y="1134.1" width="5.6" height="5.2" fill="#231f20"/>
<rect x="962.8" y="1134.1" width="5.6" height="5.2" fill="#231f20"/>
<rect x="1085.1" y="1134.1" width="5.6" height="5.2" fill="#231f20"/>
<rect x="1207.4" y="1134.1" width="5.6" height="10.6" fill="#4d4e50"/>
<rect x="848.4" y="1104.2" width="1.3" height="13.8" fill="#e7b92e"/>
<rect x="849.7" y="1104.2" width="3.9" height="13.8" fill="#5060ae"/>
<rect x="853.6" y="1104.2" width="50.3" height="13.8" fill="#3da3d3"/>
<rect x="903.9" y="1104.2" width="67.1" height="13.8" fill="#58be84"/>
<rect x="971" y="1104.2" width="121.5" height="13.8" fill="#e7b92e"/>
<polygon points="867.78,753.26 868.26,751.79 868.74,750.32 869.22,748.85 869.69,747.38 870.17,745.91 870.65,744.44 871.13,742.97 871.6,741.5 872.08,740.03 872.56,738.56 873.04,737.1 873.51,735.63 873.99,734.16 874.47,732.69 872.6,735.3 870.38,736.63 872.08,736.67 873.78,736.7 875.48,736.73 877.18,736.77 875.44,735.68 874.19,734.17 875.2,735.58 876.2,736.99 877.21,738.4 878.21,739.81 879.19,741.13 879.95,742.55 880.73,744.06 881.52,745.58 882.3,747.09 883.09,748.6 886.91,747.4 886.7,745.71 886.48,744.02 886.27,742.34 886.05,740.65 885.81,738.87 885.62,737.06 885.46,735.33 885.3,733.61 885.13,731.88 884.97,730.16 882.56,725.52 877.42,724.37 875.72,724.33 874.02,724.3 872.32,724.27 870.62,724.23 865,725.5 862.73,731.13 862.81,732.67 862.89,734.21 862.96,735.76 863.04,737.3 863.12,738.85 863.2,740.39 863.27,741.93 863.35,743.48 863.43,745.02 863.51,746.56 863.58,748.11 863.66,749.65 863.74,751.19 863.82,752.74" fill="#b3dde8"/>
<polygon points="888.27,764.73 888.61,766.28 888.96,767.83 889.31,769.38 889.66,770.94 890,772.49 890.35,774.04 890.7,775.6 891.05,777.15 891.39,778.7 891.74,780.26 892.09,781.81 892.44,783.36 892.78,784.92 893.13,786.47 893.48,788.02 893.84,789.64 894.27,791.2 894.69,792.69 895.12,794.18 895.56,795.67 896,797.16 896.44,798.65 896.88,800.14 897.33,801.63 897.77,803.12 898.21,804.61 898.65,806.1 899.09,807.59 899.53,809.08 899.97,810.57 900.41,812.06 900.85,813.55 901.29,815.04 901.73,816.53 902.17,818.02 902.61,819.5 903.08,821.09 903.62,822.61 904.12,824.02 904.62,825.44 905.12,826.86 905.62,828.27 906.12,829.69 906.62,831.1 907.12,832.52 907.62,833.94 908.12,835.35 908.61,836.77 909.11,838.18 909.61,839.6 910.06,840.87 910.45,842.3 910.89,843.86 911.32,845.42 911.73,846.98 912.15,848.55 912.57,850.12 912.98,851.68 913.4,853.25 913.82,854.81 914.23,856.38 914.65,857.94 915.15,859.75 915.79,861.47 916.32,862.94 916.86,864.42 917.39,865.9 917.93,867.37 918.47,868.85 919,870.32 919.54,871.8 920.1,873.27 920.67,874.73 921.23,876.19 921.8,877.66 922.37,879.12 923.22,881.16 924.42,883.07 925.28,884.44 926.13,885.8 926.98,887.17 927.84,888.54 928.69,889.91 929.55,891.27 930.4,892.64 931.26,894.01 932.11,895.38 933.18,896.97 934.32,898.42 935.26,899.62 936.2,900.82 937.14,902.01 938.08,903.21 939.02,904.41 939.96,905.61 940.89,906.81 942.68,908.85 944.89,910.45 946.17,911.32 947.48,912.14 948.79,912.97 950.11,913.79 951.42,914.61 952.73,915.43 954.04,916.26 956.4,917.63 959.01,918.43 960.52,918.84 962.03,919.25 963.54,919.66 965.06,920.07 966.57,920.49 968.08,920.9 969.59,921.31 971.1,921.72 975.3,906.28 973.79,905.87 972.28,905.46 970.77,905.05 969.26,904.64 967.74,904.23 966.23,903.81 964.72,903.4 963.21,902.99 962.8,902.97 962.54,902.7 961.23,901.88 959.92,901.06 958.61,900.23 957.29,899.41 955.98,898.59 954.67,897.77 953.33,896.99 952.92,896.95 952.73,896.68 951.69,895.57 950.65,894.46 949.61,893.34 948.57,892.23 947.53,891.12 946.49,890.01 945.45,888.89 944.62,888.03 943.82,887 942.8,885.75 941.78,884.5 940.76,883.25 939.74,882 938.72,880.75 937.71,879.5 936.69,878.25 935.67,877 934.65,875.75 933.98,875.04 933.58,874.21 932.89,872.8 932.2,871.39 931.51,869.98 930.82,868.58 930.12,867.17 929.4,865.78 928.68,864.38 927.95,862.98 927.23,861.59 926.51,860.19 925.79,858.8 925.07,857.4 924.45,856.25 923.97,854.97 923.4,853.45 922.83,851.94 922.27,850.42 921.7,848.9 921.13,847.38 920.57,845.87 920,844.35 919.43,842.83 918.87,841.31 918.33,839.79 917.74,838.13 917.07,836.62 916.46,835.25 915.84,833.88 915.23,832.51 914.61,831.14 914,829.77 913.38,828.4 912.77,827.03 912.15,825.66 911.54,824.29 910.93,822.92 910.31,821.55 909.7,820.18 909.12,818.91 908.63,817.54 908.11,816.08 907.59,814.62 907.06,813.15 906.54,811.69 906.02,810.23 905.5,808.77 904.98,807.3 904.46,805.84 903.94,804.38 903.41,802.91 902.89,801.45 902.37,799.99 901.85,798.52 901.33,797.06 900.81,795.6 900.28,794.14 899.76,792.67 899.24,791.21 898.69,789.76 898.16,788.36 897.71,786.9 897.25,785.38 896.78,783.86 896.31,782.34 895.85,780.82 895.38,779.29 894.92,777.77 894.45,776.25 893.99,774.73 893.52,773.21 893.06,771.68 892.59,770.16 892.13,768.64 891.66,767.12 891.2,765.6 890.73,764.07" fill="#b9e3cb"/>
<polygon points="933.51,866.31 934.5,867.52 935.49,868.74 936.49,869.96 937.48,871.18 938.48,872.4 939.47,873.62 940.46,874.84 941.46,876.06 942.45,877.27 943.44,878.49 944.44,879.71 945.43,880.93 946.43,882.15 947.42,883.37 948.41,884.59 949.67,886.08 951.3,887.26 952.66,888.22 954.01,889.17 955.37,890.13 956.72,891.08 958.08,892.04 959.43,893 960.79,893.95 962.28,895 963.86,895.85 965.29,896.62 966.73,897.4 968.17,898.17 969.6,898.94 971.04,899.71 972.48,900.49 973.91,901.26 975.35,902.03 976.78,902.81 978.29,903.62 979.81,904.32 981.25,904.98 982.69,905.65 984.13,906.31 985.58,906.98 987.02,907.64 988.46,908.3 989.9,908.97 991.34,909.63 992.78,910.3 994.22,910.96 995.66,911.63 997.1,912.29 998.55,912.96 999.99,913.62 1001.43,914.29 1002.97,914.99 1004.54,915.58 1006.02,916.13 1007.5,916.67 1008.98,917.22 1010.46,917.77 1011.94,918.31 1013.42,918.86 1014.9,919.41 1016.38,919.95 1017.86,920.5 1019.34,921.05 1020.82,921.59 1022.3,922.14 1023.78,922.69 1025.38,923.27 1026.99,923.7 1028.47,924.1 1029.95,924.49 1031.43,924.88 1032.91,925.28 1034.39,925.67 1035.87,926.06 1037.35,926.46 1038.83,926.85 1040.31,927.24 1041.79,927.64 1043.27,928.03 1044.75,928.42 1046.23,928.82 1047.71,929.21 1049.19,929.6 1050.67,930 1052.15,930.39 1053.63,930.78 1055.11,931.18 1056.59,931.57 1058.07,931.96 1059.55,932.36 1061.03,932.75 1062.51,933.14 1063.99,933.54 1065.47,933.93 1066.95,934.32 1068.43,934.72 1069.91,935.11 1071.39,935.5 1072.87,935.9 1074.35,936.29 1075.83,936.68 1077.31,937.08 1078.79,937.47 1080.27,937.86 1081.75,938.26 1083.23,938.65 1084.71,939.04 1086.19,939.44 1087.67,939.83 1089.15,940.22 1090.63,940.62 1092.11,941.01 1093.49,935.79 1092.01,935.4 1090.53,935 1089.05,934.61 1087.57,934.22 1086.09,933.82 1084.61,933.43 1083.13,933.04 1081.65,932.64 1080.17,932.25 1078.69,931.86 1077.21,931.46 1075.73,931.07 1074.25,930.68 1072.77,930.28 1071.29,929.89 1069.81,929.5 1068.33,929.1 1066.85,928.71 1065.37,928.32 1063.89,927.92 1062.41,927.53 1060.93,927.14 1059.45,926.74 1057.97,926.35 1056.49,925.96 1055.01,925.56 1053.53,925.17 1052.05,924.78 1050.57,924.38 1049.09,923.99 1047.61,923.6 1046.13,923.2 1044.65,922.81 1043.17,922.42 1041.69,922.02 1040.21,921.63 1038.73,921.24 1037.25,920.84 1035.77,920.45 1034.29,920.06 1032.81,919.66 1031.33,919.27 1029.85,918.88 1028.37,918.48 1027.02,918.13 1025.66,917.62 1024.18,917.07 1022.7,916.53 1021.22,915.98 1019.74,915.43 1018.26,914.89 1016.78,914.34 1015.3,913.79 1013.82,913.25 1012.34,912.7 1010.86,912.15 1009.38,911.61 1007.9,911.06 1006.42,910.51 1005.03,910.01 1003.69,909.38 1002.25,908.72 1000.81,908.05 999.37,907.39 997.92,906.72 996.48,906.06 995.04,905.4 993.6,904.73 992.16,904.07 990.72,903.4 989.28,902.74 987.84,902.07 986.4,901.41 984.95,900.74 983.51,900.08 982.07,899.41 980.71,898.78 979.34,898.05 977.91,897.28 976.47,896.5 975.03,895.73 973.6,894.96 972.16,894.19 970.72,893.41 969.29,892.64 967.85,891.87 966.42,891.09 965.12,890.4 963.9,889.54 962.54,888.58 961.19,887.63 959.83,886.67 958.48,885.72 957.12,884.76 955.77,883.8 954.41,882.85 953.33,882.12 952.6,881.18 951.61,879.96 950.61,878.74 949.62,877.52 948.62,876.3 947.63,875.08 946.64,873.86 945.64,872.64 944.65,871.43 943.66,870.21 942.66,868.99 941.67,867.77 940.67,866.55 939.68,865.33 938.69,864.11 937.69,862.89" fill="#f6e2a6"/>
<polygon points="949.47,1053.45 950.3,1054.79 951.1,1056.14 951.9,1057.51 952.7,1058.87 953.49,1060.23 954.29,1061.59 955.08,1062.95 955.88,1064.31 956.68,1065.67 957.64,1067.26 958.93,1068.56 960.03,1069.64 961.12,1070.73 962.21,1071.81 963.3,1072.89 964.39,1073.97 965.49,1075.06 966.58,1076.14 967.67,1077.22 968.76,1078.3 969.85,1079.39 970.94,1080.47 972.04,1081.55 973.46,1082.89 975.22,1083.8 976.62,1084.48 978.02,1085.17 979.42,1085.86 980.81,1086.55 982.21,1087.24 983.61,1087.93 985.01,1088.62 986.4,1089.31 987.8,1090 989.2,1090.69 990.6,1091.38 992.42,1092.24 994.46,1092.59 996.07,1092.84 997.68,1093.09 999.28,1093.35 1000.89,1093.58 1002.51,1093.81 1004.12,1094.04 1005.73,1094.28 1007.34,1094.51 1008.95,1094.74 1010.93,1095 1012.91,1094.81 1014.53,1094.63 1016.14,1094.45 1017.76,1094.28 1019.38,1094.1 1020.99,1093.92 1022.61,1093.74 1024.23,1093.56 1025.84,1093.39 1027.46,1093.21 1029.24,1093.01 1030.9,1092.62 1032.38,1092.26 1033.86,1091.91 1035.34,1091.56 1036.82,1091.2 1038.3,1090.85 1039.78,1090.49 1041.26,1090.14 1042.74,1089.78 1044.22,1089.43 1045.7,1089.07 1047.21,1088.64 1048.72,1088.15 1050.19,1087.68 1051.66,1087.2 1053.13,1086.72 1054.59,1086.25 1056.06,1085.77 1057.53,1085.29 1059,1084.82 1060.47,1084.34 1059.53,1080.86 1058.02,1081.18 1056.51,1081.51 1055,1081.83 1053.5,1082.15 1051.99,1082.48 1050.48,1082.8 1048.97,1083.12 1047.46,1083.45 1045.99,1083.76 1044.53,1084.01 1043.05,1084.34 1041.56,1084.67 1040.07,1085 1038.59,1085.32 1037.1,1085.65 1035.62,1085.98 1034.13,1086.31 1032.64,1086.64 1031.16,1086.97 1029.67,1087.3 1028.36,1087.59 1026.9,1087.72 1025.28,1087.87 1023.67,1088.02 1022.05,1088.17 1020.43,1088.32 1018.81,1088.47 1017.19,1088.62 1015.57,1088.76 1013.95,1088.91 1012.33,1089.06 1011.07,1089.2 1009.83,1088.97 1008.22,1088.71 1006.62,1088.45 1005.01,1088.19 1003.4,1087.93 1001.8,1087.67 1000.19,1087.42 998.58,1087.18 996.97,1086.94 995.36,1086.7 994.18,1086.56 993.2,1086.05 991.8,1085.37 990.4,1084.69 989,1084.01 987.59,1083.33 986.19,1082.65 984.79,1081.97 983.39,1081.29 981.98,1080.61 980.58,1079.93 979.18,1079.25 977.78,1078.57 976.74,1078.11 975.91,1077.36 974.74,1076.36 973.58,1075.36 972.41,1074.35 971.25,1073.35 970.08,1072.35 968.91,1071.34 967.75,1070.34 966.58,1069.34 965.42,1068.33 964.25,1067.33 963.09,1066.33 961.92,1065.32 960.96,1064.54 960.26,1063.45 959.4,1062.13 958.54,1060.81 957.67,1059.49 956.81,1058.17 955.94,1056.85 955.08,1055.53 954.22,1054.22 953.36,1052.89 952.53,1051.55" fill="#acdaf0"/>
<path d="M810.7,1039 C821.63,1037.6 832.58,1036.27 843.5,1034.8 C849.94,1033.93 856.33,1032.66 862.8,1032 C873.41,1030.92 884.06,1030.26 894.7,1029.6 C906.56,1028.86 918.43,1028.24 930.3,1027.8 C940.2,1027.44 950.1,1027.4 960,1027.2 C970,1027 980,1026.77 990,1026.6 C1002.87,1026.37 1015.74,1025.58 1028.6,1026 C1030.09,1026.05 1031.11,1027.87 1032.6,1028 C1045,1029.08 1057.46,1029.12 1069.9,1029.6 C1079.93,1029.99 1089.96,1030.4 1100,1030.6 C1106.67,1030.73 1113.33,1030.55 1120,1030.6 C1126.87,1030.65 1133.73,1030.8 1140.6,1030.9" fill="none" stroke="#48389e" stroke-width="3.7" stroke-linejoin="round" stroke-linecap="butt"/>
<path d="M810.7,1039 C821.63,1037.67 832.57,1036.33 843.5,1035 C845.8,1010 848.43,985.03 850.4,960 C852.1,938.36 853.16,916.67 854.5,895 C855.53,878.34 856.43,861.66 857.5,845 C858.5,829.33 858.93,813.6 860.7,798 C860.85,796.66 862.37,795.87 863.2,794.8 C864.47,801.8 866.08,808.75 867,815.8 C868.55,827.69 869.34,839.67 870.6,851.6 C871.74,862.34 872.81,873.09 874.2,883.8 C875.51,893.96 876.93,904.11 878.7,914.2 C880.8,926.15 883.27,938.03 885.8,949.9 C889.24,966.04 892.55,982.21 896.6,998.2 C898.29,1004.86 900.68,1011.33 903,1017.8 C905.58,1024.97 907.63,1032.42 911.3,1039.1 C914.43,1044.78 918.58,1049.95 923.2,1054.5 C926.97,1058.21 931.59,1061 936.2,1063.6 C939.74,1065.6 943.73,1066.67 947.5,1068.2 C951.67,1067.87 955.83,1067.5 960,1067.2 C963.33,1066.96 966.71,1067.16 970,1066.6 C981.16,1064.72 992.23,1062.27 1003.3,1059.9 C1014,1057.61 1024.63,1055.03 1035.3,1052.6" fill="none" stroke="#5063b2" stroke-width="3.7" stroke-linejoin="round" stroke-linecap="butt"/>
<path d="M810.7,1038.7 C821.63,1037.47 832.57,1036.23 843.5,1035 C845.67,1011.67 848.18,988.36 850,965 C851.68,943.36 852.79,921.67 854,900 C855.12,880.01 855.92,860 857,840 C857.99,821.66 858.53,803.29 860.2,785 C861.13,774.86 863.21,764.86 864.8,754.8 C866.08,746.72 867.47,738.67 868.8,730.6 C872.2,730.67 875.6,730.73 879,730.8 C880.23,733.87 881.71,736.85 882.7,740 C885.22,748.06 887.29,756.25 889.5,764.4 C891.72,772.59 893.57,780.87 896,789 C899.11,799.41 903.1,809.55 906.1,820 C906.84,822.59 906.83,825.33 907.2,828 C908.53,838.17 909.84,848.34 911.2,858.5 C912.4,867.47 913.71,876.43 914.9,885.4 C916.51,897.59 918.27,909.77 919.6,922 C920.61,931.31 920.71,940.71 921.9,950 C922.95,958.2 924.56,966.32 926.3,974.4 C928.06,982.6 930.37,990.67 932.4,998.8 C934.43,1006.93 935.9,1015.23 938.5,1023.2 C941.22,1031.53 944.46,1039.72 948.3,1047.6 C951.42,1054 954.81,1060.38 959.3,1065.9 C963.83,1071.46 969.2,1076.42 975.1,1080.5 C980.66,1084.34 986.87,1087.32 993.3,1089.4 C998.98,1091.24 1005.03,1091.95 1011,1092.1 C1016.96,1092.25 1022.92,1091.28 1028.8,1090.3 C1034.81,1089.3 1040.69,1087.68 1046.6,1086.2 C1052.56,1084.71 1058.46,1082.98 1064.4,1081.4 C1071.1,1079.62 1077.8,1077.87 1084.5,1076.1" fill="none" stroke="#3aa3d5" stroke-width="3.7" stroke-linejoin="round" stroke-linecap="butt"/>
<path d="M810.7,1038.7 C821.63,1037.47 832.57,1036.23 843.5,1035 C845.67,1011.67 848.18,988.36 850,965 C851.68,943.36 852.79,921.67 854,900 C855.12,880.01 855.92,860 857,840 C857.99,821.66 858.53,803.29 860.2,785 C861.13,774.86 863.2,764.86 864.8,754.8 C866.07,746.86 867.47,738.93 868.8,731 C872.2,731 875.6,731 879,731 C880.23,734 881.73,736.91 882.7,740 C885.23,748.05 887.29,756.25 889.5,764.4 C891.72,772.59 893.57,780.87 896,789 C899.11,799.41 902.47,809.76 906.1,820 C908.44,826.6 911.53,832.91 913.9,839.5 C916.1,845.59 917.5,851.95 919.8,858 C922.4,864.84 925.06,871.7 928.6,878.1 C931.46,883.26 935.29,887.83 938.9,892.5 C941.69,896.11 944.34,899.93 947.8,902.9 C951.32,905.93 955.35,908.44 959.6,910.3 C963.9,912.18 968.67,912.77 973.2,914 C974.6,918.2 976.46,922.27 977.4,926.6 C979.84,937.84 981.14,949.3 983.3,960.6 C984.67,967.77 986.32,974.89 988,982 C989.42,988.03 990.76,994.09 992.6,1000 C994.97,1007.63 997.32,1015.31 1000.6,1022.6 C1003.14,1028.24 1006.32,1033.63 1010,1038.6 C1013.93,1043.91 1018.39,1048.87 1023.3,1053.3 C1027.32,1056.92 1031.72,1060.26 1036.6,1062.6 C1042.94,1065.64 1049.75,1067.71 1056.6,1069.3 C1063.15,1070.82 1069.88,1071.68 1076.6,1071.9 C1083.24,1072.12 1089.92,1071.56 1096.5,1070.6 C1106.62,1069.12 1116.62,1066.86 1126.6,1064.6 C1135.33,1062.62 1143.93,1060.13 1152.6,1057.9" fill="none" stroke="#58be84" stroke-width="3.7" stroke-linejoin="round" stroke-linecap="butt"/>
<path d="M810.7,1039.1 C821.63,1037.73 832.57,1036.37 843.5,1035 C845.8,1010 848.43,985.03 850.4,960 C852.1,938.36 853.16,916.67 854.5,895 C855.53,878.34 856.43,861.66 857.5,845 C858.5,829.33 859.27,813.64 860.7,798 C861.37,790.62 862.45,783.28 863.8,776 C865.59,766.34 868,756.8 870.1,747.2 C872.73,745.4 875.37,743.6 878,741.8 C880.2,746.2 882.6,750.51 884.6,755 C887.4,761.28 889.74,767.76 892.4,774.1 C895.27,780.96 898.45,787.69 901.2,794.6 C905.12,804.46 908.02,814.73 912.4,824.4 C915.85,832.01 920.42,839.06 924.6,846.3 C928.16,852.46 931.47,858.8 935.6,864.6 C940.46,871.43 945.57,878.17 951.5,884.1 C955.02,887.62 959.45,890.11 963.7,892.7 C968.8,895.82 974.13,898.56 979.5,901.2 C987.57,905.17 995.7,909.03 1004,912.5 C1011.28,915.54 1018.68,918.31 1026.2,920.7 C1033.5,923.02 1041,924.63 1048.4,926.6 C1055.8,928.57 1063.2,930.53 1070.6,932.5 C1078,934.47 1085.4,936.43 1092.8,938.4 C1093.57,937.93 1094.33,937.47 1095.1,937 C1096.33,939.93 1097.86,942.76 1098.8,945.8 C1101.07,953.11 1102.9,960.56 1104.7,968 C1107.8,980.83 1109.76,993.94 1113.5,1006.6 C1116.21,1015.77 1119.76,1024.73 1124,1033.3 C1126.83,1039.04 1130.5,1044.39 1134.6,1049.3 C1137.23,1052.46 1140.68,1054.87 1144,1057.3 C1149.16,1061.08 1154.32,1064.96 1160,1067.9 C1166.35,1071.19 1172.98,1074.12 1179.9,1075.9 C1188.62,1078.14 1197.62,1079.33 1206.6,1079.9 C1215.45,1080.46 1224.34,1079.79 1233.2,1079.3 C1239.89,1078.93 1246.54,1078.02 1253.2,1077.3 C1260.11,1076.55 1267,1075.7 1273.9,1074.9" fill="none" stroke="#e8b92e" stroke-width="3.7" stroke-linejoin="round" stroke-linecap="butt"/>
<g transform="translate(738.99 732.6) scale(1.000 1.045)"><text font-size="31.5" x="17.52 26.27 43.79">.06</text><path transform="translate(0 0) scale(31.5 -30.24)" d="M0.373 0L0.285 0L0.285 0.56C0.255 0.532 0.218 0.505 0.182 0.486C0.152 0.47 0.13 0.461 0.109 0.454L0.109 0.539C0.158 0.562 0.2 0.59 0.238 0.623C0.275 0.656 0.3 0.688 0.316 0.719L0.373 0.719Z" fill="#231f20"/></g>
<g transform="translate(738.99 838.1) scale(1.000 1.045)"><text font-size="31.5" x="17.52 26.27 43.79">.04</text><path transform="translate(0 0) scale(31.5 -30.24)" d="M0.373 0L0.285 0L0.285 0.56C0.255 0.532 0.218 0.505 0.182 0.486C0.152 0.47 0.13 0.461 0.109 0.454L0.109 0.539C0.158 0.562 0.2 0.59 0.238 0.623C0.275 0.656 0.3 0.688 0.316 0.719L0.373 0.719Z" fill="#231f20"/></g>
<g transform="translate(738.99 943.7) scale(1.000 1.045)"><text font-size="31.5" x="17.52 26.27 43.79">.02</text><path transform="translate(0 0) scale(31.5 -30.24)" d="M0.373 0L0.285 0L0.285 0.56C0.255 0.532 0.218 0.505 0.182 0.486C0.152 0.47 0.13 0.461 0.109 0.454L0.109 0.539C0.158 0.562 0.2 0.59 0.238 0.623C0.275 0.656 0.3 0.688 0.316 0.719L0.373 0.719Z" fill="#231f20"/></g>
<g transform="translate(782.78 1049.2) scale(1.000 1.045)"><path transform="translate(0 0) scale(31.5 -30.24)" d="M0.373 0L0.285 0L0.285 0.56C0.255 0.532 0.218 0.505 0.182 0.486C0.152 0.47 0.13 0.461 0.109 0.454L0.109 0.539C0.158 0.562 0.2 0.59 0.238 0.623C0.275 0.656 0.3 0.688 0.316 0.719L0.373 0.719Z" fill="#231f20"/></g>
<g transform="translate(738.99 1154.8) scale(1.000 1.045)"><text font-size="31.5">0.98</text></g>
<g transform="translate(834.64 1181.8) scale(1.000 1.045)"><text font-size="31.5">0</text></g>
<g transform="translate(948.17 1181.8) scale(1.000 1.045)"><text font-size="31.5">50</text></g>
<g transform="translate(1060.62 1181.8) scale(1.000 1.045)"><text font-size="31.5" x="17.52 35.04">00</text><path transform="translate(0 0) scale(31.5 -30.24)" d="M0.373 0L0.285 0L0.285 0.56C0.255 0.532 0.218 0.505 0.182 0.486C0.152 0.47 0.13 0.461 0.109 0.454L0.109 0.539C0.158 0.562 0.2 0.59 0.238 0.623C0.275 0.656 0.3 0.688 0.316 0.719L0.373 0.719Z" fill="#231f20"/></g>
<g transform="translate(1182.92 1181.8) scale(1.000 1.045)"><text font-size="31.5" x="17.52 35.04">50</text><path transform="translate(0 0) scale(31.5 -30.24)" d="M0.373 0L0.285 0L0.285 0.56C0.255 0.532 0.218 0.505 0.182 0.486C0.152 0.47 0.13 0.461 0.109 0.454L0.109 0.539C0.158 0.562 0.2 0.59 0.238 0.623C0.275 0.656 0.3 0.688 0.316 0.719L0.373 0.719Z" fill="#231f20"/></g>
<g transform="translate(1000.58 1222.5) scale(1.000 1.000)"><text font-size="31.9">Time (s)</text></g>
<g transform="translate(871.62 693.5) scale(1.000 1.000)"><text font-size="31.5">High Power Stimulation</text></g>
<text transform="translate(53.8 539.44) rotate(-90) scale(1 1.020)" font-size="31.72">Cdc42 Activity (Mean FRET Ratio)</text>
<text transform="translate(57.7 1164.89) rotate(-90) scale(1 1.020)" font-size="31.72">Cdc42 Activity (Mean FRET Ratio)</text>
<text transform="translate(723.8 1171.94) rotate(-90) scale(1 1.020)" font-size="31.72">Cdc42 Activity (Mean FRET Ratio)</text>
</svg>
</body></html>
